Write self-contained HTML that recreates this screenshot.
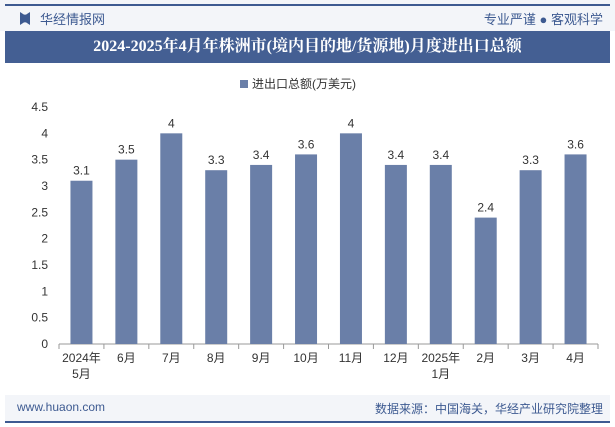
<!DOCTYPE html>
<html><head><meta charset="utf-8"><style>
body{margin:0;width:615px;height:427px;background:#fff;font-family:"Liberation Sans","Noto Sans CJK SC",sans-serif;overflow:hidden;position:relative}
.abs{position:absolute}
</style></head><body>
<div class="abs" style="left:0;top:0;width:615px;height:31px;background:#f3f5f9"></div>
<div class="abs" style="left:5px;top:4px;width:605px;height:2px;background:#3d5a91"></div>
<div class="abs" style="left:20px;top:12px;width:10px;height:13px;background:#3d5a91;clip-path:polygon(0 0,40% 20%,60% 20%,100% 0,100% 100%,60% 80%,40% 80%,0 100%)"></div>
<div class="abs" style="left:40px;top:9px;font-size:13px;color:#3d5a91">华经情报网</div>
<div class="abs" style="right:12px;top:9px;font-size:13px;color:#3d5a91">专业严谨 ● 客观科学</div>
<div class="abs" style="left:5px;top:31px;width:605px;height:32px;background:#445f93;color:#fff;font:bold 16px 'Liberation Serif','Noto Serif CJK SC',serif;text-align:center;line-height:32px">2024-2025年4月年株洲市(境内目的地/货源地)月度进出口总额</div>
<div class="abs" style="left:240px;top:75px;font-size:12px;color:#333"><span style="display:inline-block;width:8px;height:8px;background:#6a7fa8;margin-right:4px"></span>进出口总额(万美元)</div>
<svg class="abs" style="left:0;top:0" width="615" height="427" id="chart"></svg>
<div class="abs" style="left:5px;top:395px;width:605px;height:26px;background:#f3f5f9"></div>
<div class="abs" style="left:5px;top:421px;width:605px;height:2px;background:#3d5a91"></div>
<div class="abs" style="left:17px;top:400px;font-size:12px;color:#3d5a91">www.huaon.com</div>
<div class="abs" style="right:12px;top:400px;font-size:12px;color:#3d5a91">数据来源：中国海关，华经产业研究院整理</div>
<script>
const categories=["2024年|5月","6月","7月","8月","9月","10月","11月","12月","2025年|1月","2月","3月","4月"];
const values=[3.1,3.5,4,3.3,3.4,3.6,4,3.4,3.4,2.4,3.3,3.6];
const ticks=[0,0.5,1,1.5,2,2.5,3,3.5,4,4.5];
const svg=document.getElementById('chart');const NS='http://www.w3.org/2000/svg';
const x0=59,x1=598,y0=344,y1=107,ymax=4.5;
const bw=(x1-x0)/categories.length;
const y=v=>y0-(v/ymax)*(y0-y1);
const xc=i=>x0+bw*(i+0.5);
function mk(t,a,txt){const e=document.createElementNS(NS,t);for(const k in a)e.setAttribute(k,a[k]);if(txt!=null)e.textContent=txt;svg.appendChild(e);return e;}
ticks.forEach(t=>{const e=mk('text',{x:48,y:y(t)+4,'text-anchor':'end','font-size':12,fill:'#333'},String(t));

});
const ax=mk('line',{x1:x0,x2:x1,y1:y0,y2:y0,stroke:'#999'});


for(let i=0;i<=categories.length;i++){const t=mk('line',{x1:x0+bw*i,x2:x0+bw*i,y1:y0,y2:y0+5,stroke:'#999'});

}
values.forEach((v,i)=>{const r=mk('rect',{x:xc(i)-11,y:y(v),width:22,height:y0-y(v),fill:'#6a7fa8'});


const l=mk('text',{x:xc(i),y:y(v)-6,'text-anchor':'middle','font-size':12,fill:'#333'},String(v));


categories[i].split('|').forEach((s,j)=>{const c=mk('text',{x:xc(i),y:y0+18+j*16,'text-anchor':'middle','font-size':12,fill:'#333'},s);

});});
</script>
</body></html>
